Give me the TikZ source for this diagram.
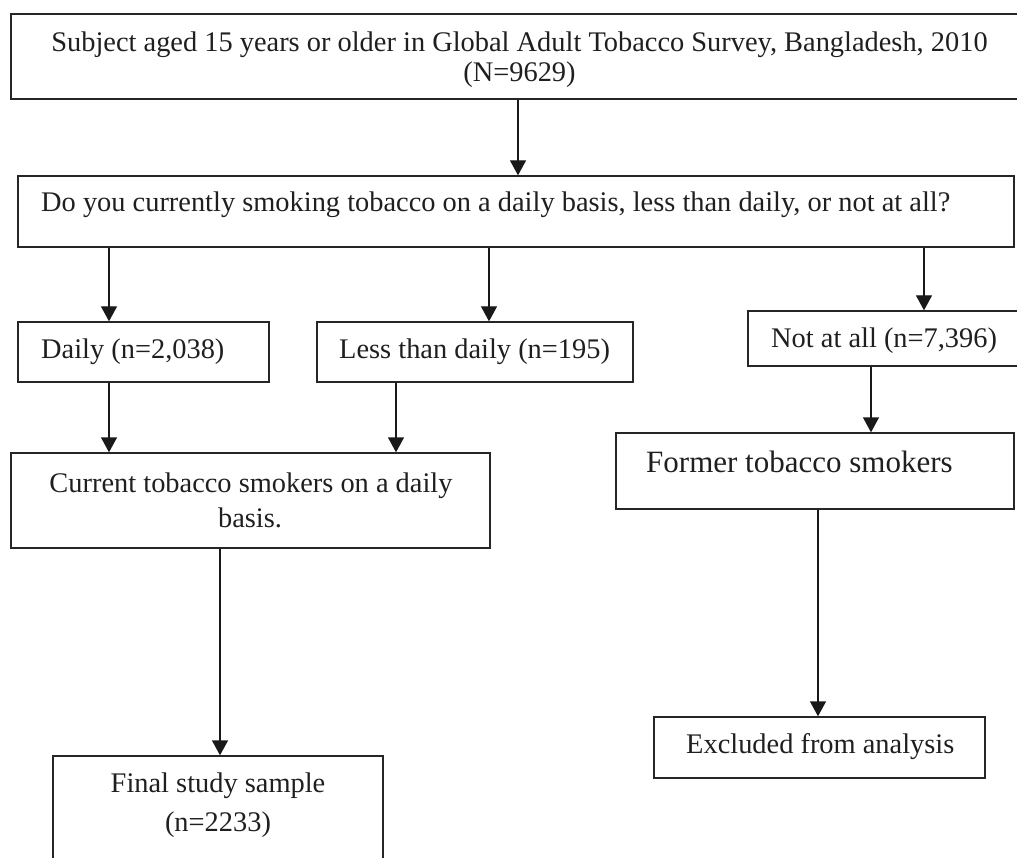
\documentclass[tikz,border=0pt]{standalone}
\usepackage{fontspec}
\setmainfont{Liberation Serif}
\usetikzlibrary{arrows.meta}
\tikzset{
  box/.style={draw=black!85, line width=1.4pt, rectangle, inner sep=0pt},
  arr/.style={draw=black!90, line width=1.4pt, -{Triangle[width=16pt,length=15pt]}},
  txt/.style={inner sep=0pt, text=black!88, font=\fontsize{28.4}{34}\selectfont},
  bigtxt/.style={inner sep=0pt, text=black!88, font=\fontsize{31}{36}\selectfont}
}
\begin{document}
\begin{tikzpicture}[x=1pt,y=-1pt]
\useasboundingbox (0,0) rectangle (1017,858);
% boxes
\node[box, minimum width=1011pt, minimum height=85pt] (top) at (516.5,56.5) {};
\node[box, minimum width=996pt, minimum height=71pt] (q) at (516,211.5) {};
\node[box, minimum width=251pt, minimum height=60pt] (daily) at (143.5,352) {};
\node[box, minimum width=316pt, minimum height=60pt] (less) at (475,352) {};
\node[box, minimum width=274pt, minimum height=55pt] (notall) at (885,338.5) {};
\node[box, minimum width=479pt, minimum height=95pt] (current) at (250.5,500.5) {};
\node[box, minimum width=398pt, minimum height=76pt] (former) at (815,471) {};
\node[box, minimum width=330pt, minimum height=114pt] (final) at (218,813) {};
\node[box, minimum width=331pt, minimum height=61pt] (excluded) at (819.5,747.5) {};
% texts
\node[txt, anchor=base] (t1a) at (519.5,52) {Subject aged 15 years or older in Global Adult Tobacco Survey, Bangladesh, 2010};
\node[txt, anchor=base] (t1b) at (519.5,82) {(N=9629)};
\node[txt, anchor=base west] (t2) at (41,212) {Do you currently smoking tobacco on a daily basis, less than daily, or not at all?};
\node[txt, anchor=base west] (t3) at (41,359) {Daily (n=2,038)};
\node[txt, anchor=base west] (t4) at (339,359) {Less than daily (n=195)};
\node[txt, anchor=base west] (t5) at (771,348) {Not at all (n=7,396)};
\node[txt, anchor=base] (t6a) at (251,492) {Current tobacco smokers on a daily};
\node[txt, anchor=base] (t6b) at (250,527) {basis.};
\node[bigtxt, anchor=base west] (t7) at (646,472) {Former tobacco smokers};
\node[txt, anchor=base] (t8a) at (218,792) {Final study sample};
\node[txt, anchor=base] (t8b) at (218,831) {(n=2233)};
\node[txt, anchor=base west] (t9) at (686,753) {Excluded from analysis};
% arrow columns
\coordinate (c1) at (518,0);
\coordinate (c2) at (109,0);
\coordinate (c3) at (489,0);
\coordinate (c4) at (924,0);
\coordinate (c5) at (396,0);
\coordinate (c6) at (220,0);
\coordinate (c7) at (871,0);
\coordinate (c8) at (818,0);
% connectors
\draw[arr] (top.south -| c1) -- (q.north -| c1);
\draw[arr] (q.south -| c2) -- (daily.north -| c2);
\draw[arr] (q.south -| c3) -- (less.north -| c3);
\draw[arr] (q.south -| c4) -- (notall.north -| c4);
\draw[arr] (daily.south -| c2) -- (current.north -| c2);
\draw[arr] (less.south -| c5) -- (current.north -| c5);
\draw[arr] (current.south -| c6) -- (final.north -| c6);
\draw[arr] (notall.south -| c7) -- (former.north -| c7);
\draw[arr] (former.south -| c8) -- (excluded.north -| c8);
\end{tikzpicture}
\end{document}
